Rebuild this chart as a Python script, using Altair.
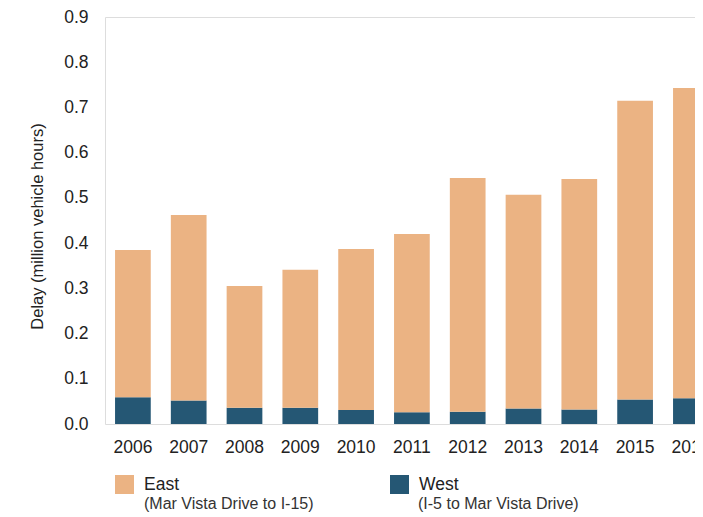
import altair as alt
import pandas as pd

years = ["2006", "2007", "2008", "2009", "2010", "2011", "2012", "2013", "2014", "2015", "2016"]
west = [0.059, 0.052, 0.036, 0.036, 0.031, 0.026, 0.027, 0.034, 0.032, 0.054, 0.057]
east = [0.326, 0.410, 0.269, 0.305, 0.356, 0.394, 0.517, 0.473, 0.510, 0.661, 0.686]
series_names = ["East", "West"]
series_notes = ["(Mar Vista Drive to I-15)", "(I-5 to Mar Vista Drive)"]
colors = ["#EBB383", "#255774"]
tick_values = [0.0, 0.1, 0.2, 0.3, 0.4, 0.5, 0.6, 0.7, 0.8, 0.9]

rows = []
for i, yr in enumerate(years):
    rows.append({"year": yr, "series": "West", "note": series_notes[1], "value": west[i], "order": 0})
    rows.append({"year": yr, "series": "East", "note": series_notes[0], "value": east[i], "order": 1})
df = pd.DataFrame(rows)

FONT = "Liberation Sans"
TXT = "#222222"

x_enc = alt.X(
    "year:N",
    sort=years,
    title=None,
    scale=alt.Scale(domain=years, range=[0, 613.8], paddingInner=0.36, paddingOuter=0.18),
    axis=alt.Axis(labelAngle=0, ticks=False, domain=False, labelPadding=14,
                  labelFontSize=17.5, labelColor=TXT, labelFont=FONT),
)

y_enc = alt.Y(
    "value:Q",
    stack="zero",
    scale=alt.Scale(domain=[0, 0.9], nice=False),
    axis=alt.Axis(values=tick_values, format=".1f", grid=False, domain=False, ticks=False,
                  labelPadding=17, labelFontSize=17.5, labelColor=TXT, labelFont=FONT,
                  title="Delay (million vehicle hours)", titleFontSize=16.5,
                  titleFontWeight="normal", titleColor=TXT, titleFont=FONT,
                  titlePadding=18, titleY=209),
)

bars = alt.Chart(df).mark_bar().encode(
    x=x_enc,
    y=y_enc,
    color=alt.Color(
        "series:N",
        scale=alt.Scale(domain=series_names, range=colors),
        legend=alt.Legend(orient="none", legendX=10, legendY=458, direction="horizontal",
                          title=None, symbolType="square", symbolSize=361,
                          symbolStrokeWidth=0, symbolOpacity=1, labelFontSize=17.5,
                          labelOffset=10, columnPadding=210, labelColor=TXT,
                          labelFont=FONT, labelLimit=300),
    ),
    order=alt.Order("order:Q", sort="ascending"),
)

notes = alt.Chart(df).mark_point(opacity=0).encode(
    x=alt.X("year:N", sort=years),
    y=alt.Y("value:Q"),
    shape=alt.Shape(
        "note:N",
        scale=alt.Scale(domain=series_notes, range=["square", "square"]),
        legend=alt.Legend(orient="none", legendX=10, legendY=477.5, direction="horizontal",
                          title=None, symbolOpacity=0, symbolSize=361,
                          symbolStrokeWidth=0, labelFontSize=16, labelOffset=10,
                          columnPadding=75, labelColor="#333333", labelFont=FONT,
                          labelLimit=300),
    ),
)

chart = alt.layer(bars, notes).resolve_legend(color="independent", shape="independent").properties(
    width=590,
    height=407,
    padding={"left": 97, "top": 9, "right": 0, "bottom": 92},
    autosize=alt.AutoSizeParams(type="none"),
).configure_view(stroke=None).configure(font=FONT, background="white")

chart.save("out.html", embed_options={"renderer": "svg", "actions": False})
